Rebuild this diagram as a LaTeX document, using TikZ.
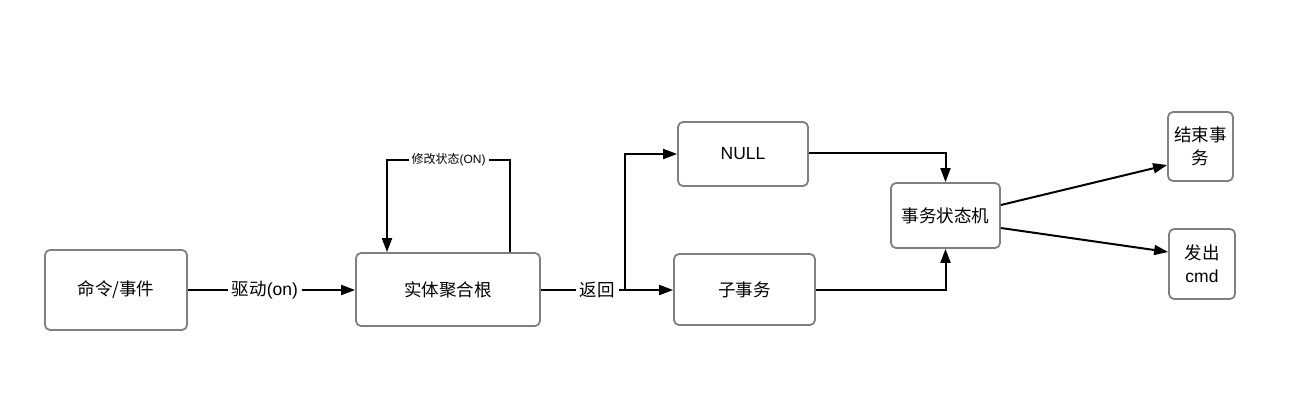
\documentclass[tikz,border=0pt]{standalone}
\usepackage{fontspec}
\setmainfont{Liberation Sans}
\newfontfamily\cjk{Noto Sans CJK SC}
\usetikzlibrary{arrows.meta}
\begin{document}
\begin{tikzpicture}[x=1pt,y=-1pt,
  box/.style={draw=black!50,line width=1.8pt,rounded corners=5pt,fill=white,inner sep=0pt,align=center,font=\fontsize{17.5}{23}\selectfont},
  conn/.style={line width=2pt,-{Triangle[length=14pt,width=10pt]}},
  lbl/.style={fill=white,inner sep=4pt,font=\fontsize{17.5}{20}\selectfont}]
\useasboundingbox (0,0) rectangle (1289,414);
\node[box,minimum width=142pt,minimum height=80pt] (cmd) at (116,290) {\cjk 命令/事件};
\node[box,minimum width=184pt,minimum height=73pt] (agg) at (448,289.5) {\cjk 实体聚合根};
\node[box,minimum width=130pt,minimum height=64pt] (null) at (743,154) {NULL};
\node[box,minimum width=141pt,minimum height=71pt] (sub) at (744.5,289.5) {\cjk 子事务};
\node[box,minimum width=109pt,minimum height=65pt] (fsm) at (945.5,215.5) {\cjk 事务状态机};
\node[box,minimum width=65pt,minimum height=69pt] (end) at (1200.5,146.5) {{\cjk 结束事}\\{\cjk 务}};
\node[box,minimum width=66pt,minimum height=70pt] (emit) at (1202,264) {{\cjk 发出}\\cmd};
\coordinate (j) at (625,290);
\coordinate (lp1) at (510,160);
\coordinate (lp2) at (387,160);
% edges
\draw[conn] (cmd.east |- 0,290) -- node[lbl,pos=0.46]{{\cjk 驱动}(on)} (agg.west |- 0,290);
\draw[line width=2pt] (agg.east |- 0,290) -- node[lbl,pos=0.67]{\cjk 返回} (j);
\draw[conn] (j) |- (null.west);
\draw[conn] (j) -- (sub.west |- j);
\draw[conn] (agg.north -| lp1) -- (lp1) -- node[fill=white,inner sep=3pt,font=\fontsize{12}{14}\selectfont]{{\cjk 修改状态}(ON)} (lp2) -- (agg.north -| lp2);
\draw[conn] (null.east |- 0,153) -| (fsm.north);
\draw[conn] (sub.east) -| (fsm.south);
\draw[conn] (fsm.east |- 0,205) -- (end.west |- 0,165);
\draw[conn] (fsm.east |- 0,228) -- (emit.west |- 0,252);
\end{tikzpicture}
\end{document}
